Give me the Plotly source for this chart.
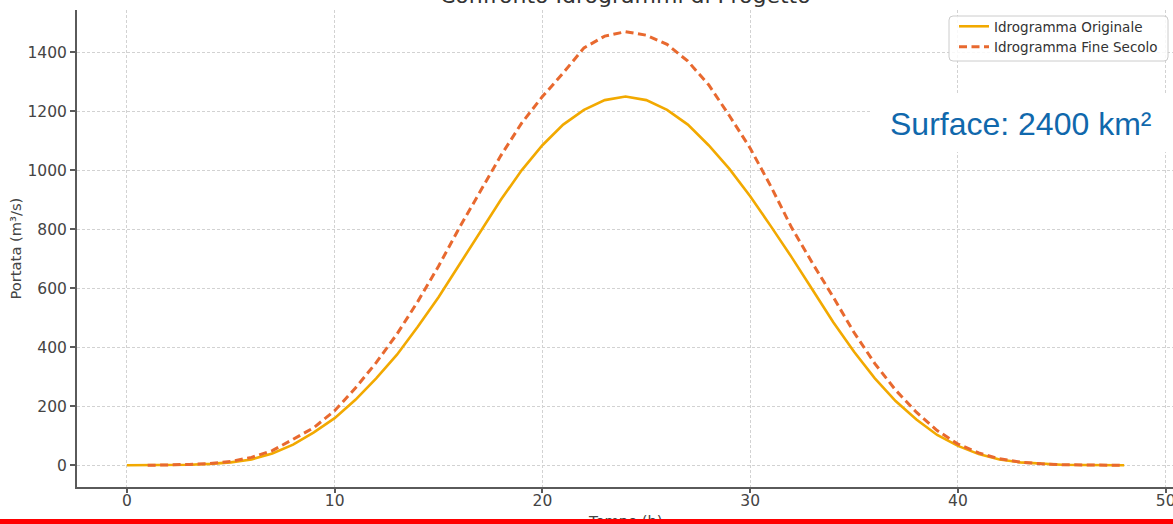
import plotly.graph_objects as go

# Design hydrographs: discharge (m³/s) at hourly steps
hours_originale = list(range(0, 49))
portata_originale = [
    0, 0, 1, 2, 5, 10, 20, 40, 70, 112,
    160, 222, 295, 375, 470, 570, 680, 790, 900, 1000,
    1085, 1155, 1205, 1238, 1250, 1238, 1205, 1155, 1085, 1005,
    912, 810, 705, 595, 485, 385, 295, 218, 155, 103,
    66, 38, 20, 10, 5, 2, 1, 0, 0,
]

hours_fine_secolo = list(range(1, 49))
portata_fine_secolo = [
    0, 1, 3, 6, 13, 27, 50, 88, 128,
    185, 262, 348, 445, 555, 675, 805, 930, 1050, 1160,
    1250, 1330, 1415, 1455, 1470, 1458, 1427, 1370, 1290, 1185,
    1075, 945, 805, 685, 570, 450, 345, 255, 180, 118,
    72, 42, 22, 11, 5, 2, 1, 0, 0,
]

x_ticks = [0, 10, 20, 30, 40, 50]
y_ticks = [0, 200, 400, 600, 800, 1000, 1200, 1400]

W, H = 1173, 524
M_L, M_R, M_T, M_B = 77, 0, 10, 37
PW, PH = W - M_L - M_R, H - M_T - M_B


def px_x(x):
    return (x - M_L) / PW


def px_y(y):
    return (H - M_B - y) / PH


TXT = "#444444"
AX = "#5a5a5a"
GRID = "#d2d2d2"

fig = go.Figure()
fig.add_trace(go.Scatter(
    x=hours_originale, y=portata_originale, mode="lines",
    name="Idrogramma Originale",
    line=dict(color="#F2A900", width=2.6),
))
fig.add_trace(go.Scatter(
    x=hours_fine_secolo, y=portata_fine_secolo, mode="lines",
    name="Idrogramma Fine Secolo",
    line=dict(color="#E8692F", width=3, dash="8px,4.5px"),
))

axis_common = dict(
    showline=True, linecolor=AX, linewidth=2,
    ticks="outside", ticklen=5, tickwidth=1.5, tickcolor=AX,
    showgrid=True, gridcolor=GRID, gridwidth=1, griddash="3px,2px",
    zeroline=False, ticklabeloverflow="allow",
    tickfont=dict(family="DejaVu Sans", size=15.5, color=TXT),
)

fig.update_xaxes(range=[-2.4, 50.35], tickvals=x_ticks, **axis_common)
fig.update_xaxes(ticklen=4, ticklabelstandoff=-6)
fig.update_yaxes(range=[-73.5, 1543.5], tickvals=y_ticks, tickformat="d", **axis_common)


def rounded_rect(x0, y0, x1, y1, r):
    # SVG path of a rounded rectangle in paper coordinates, corners given in pixels
    X = lambda v: px_x(v)
    Y = lambda v: px_y(v)
    return (f"M {X(x0 + r)} {Y(y0)} L {X(x1 - r)} {Y(y0)} Q {X(x1)} {Y(y0)} {X(x1)} {Y(y0 + r)} "
            f"L {X(x1)} {Y(y1 - r)} Q {X(x1)} {Y(y1)} {X(x1 - r)} {Y(y1)} "
            f"L {X(x0 + r)} {Y(y1)} Q {X(x0)} {Y(y1)} {X(x0)} {Y(y1 - r)} "
            f"L {X(x0)} {Y(y0 + r)} Q {X(x0)} {Y(y0)} {X(x0 + r)} {Y(y0)} Z")


fig.update_layout(
    width=W, height=H,
    margin=dict(l=M_L, r=M_R, t=M_T, b=M_B, autoexpand=False),
    paper_bgcolor="white", plot_bgcolor="white",
    showlegend=True,
    legend=dict(
        x=px_x(954), y=px_y(11), xanchor="left", yanchor="top",
        bgcolor="rgba(0,0,0,0)", borderwidth=0,
        font=dict(family="DejaVu Sans", size=13.5, color="#333333"),
        itemwidth=30, tracegroupgap=0,
    ),
    shapes=[
        # legend frame
        dict(type="path", xref="paper", yref="paper", layer="above",
             path=rounded_rect(949, 16, 1168, 61, 4),
             fillcolor="rgba(255,255,255,0.85)", line=dict(color="#cccccc", width=1)),
        # white panel behind the surface label
        dict(type="rect", xref="paper", yref="paper", layer="above",
             x0=px_x(870), x1=px_x(1180), y0=px_y(152), y1=px_y(93),
             fillcolor="white", line=dict(width=0)),
    ],
    annotations=[
        dict(text="Confronto Idrogrammi di Progetto", xref="paper", yref="paper",
             x=px_x(625), y=px_y(10), xanchor="center", yanchor="bottom",
             showarrow=False, font=dict(family="DejaVu Sans", size=22, color="#333333")),
        dict(text="Portata (m³/s)", xref="paper", yref="paper",
             x=px_x(15), y=0.5, xanchor="center", yanchor="middle", textangle=-90,
             showarrow=False, font=dict(family="DejaVu Sans", size=14.7, color=TXT)),
        dict(text="Tempo (h)", xref="paper", yref="paper",
             x=px_x(625), y=px_y(510), xanchor="center", yanchor="top",
             showarrow=False, font=dict(family="DejaVu Sans", size=14.7, color=TXT)),
        dict(text="Surface: 2400 km²", xref="paper", yref="paper",
             x=px_x(888), y=px_y(124), xanchor="left", yanchor="middle",
             showarrow=False, font=dict(family="Liberation Sans", size=32, color="#1068AC")),
        # red rule along the lower edge
        dict(text=" ", xref="paper", yref="paper",
             x=px_x(W / 2), y=px_y(521.5), xanchor="center", yanchor="middle",
             width=W + 4, height=5, bgcolor="#FF0000", borderpad=0, borderwidth=0,
             showarrow=False, font=dict(size=4)),
    ],
)

fig.write_html("out.html")
